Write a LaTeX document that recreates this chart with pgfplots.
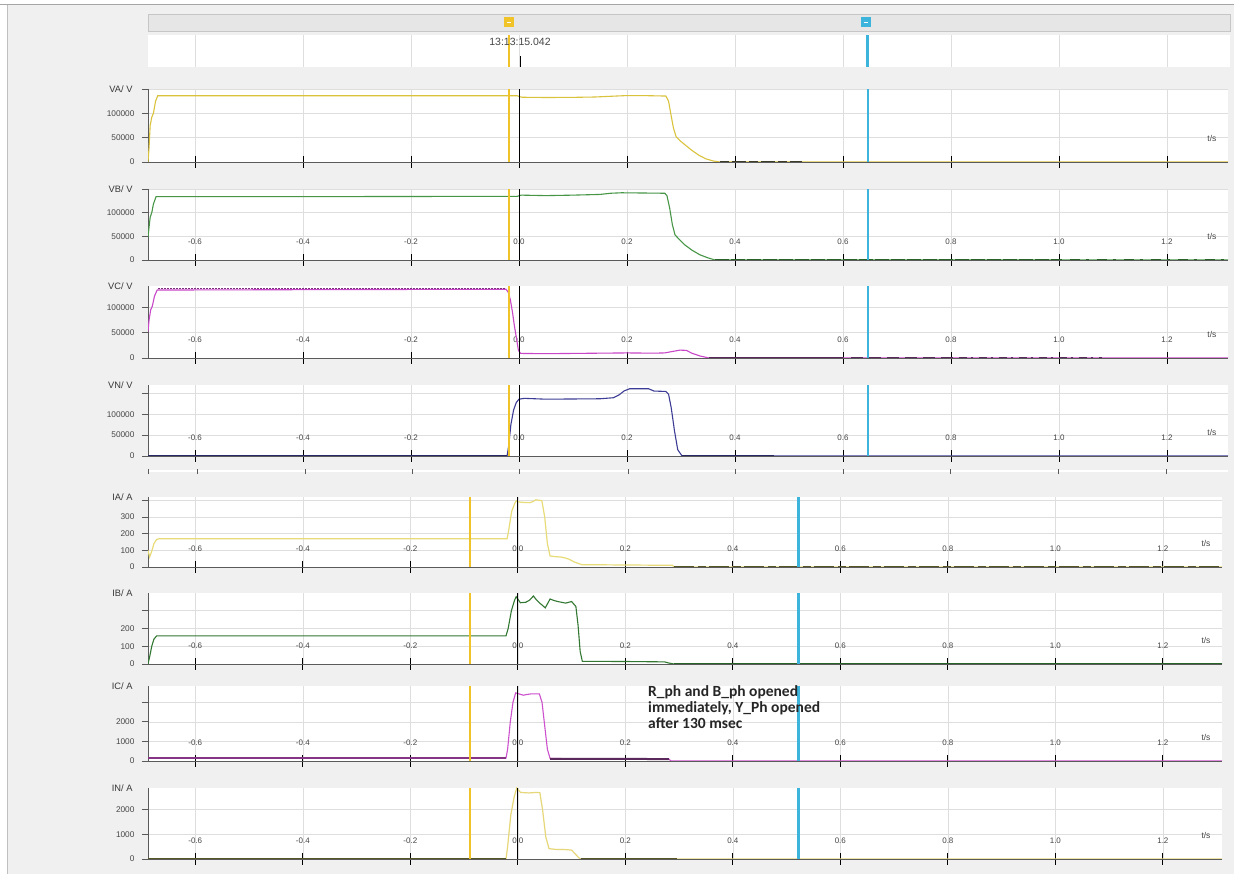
\documentclass[border=0pt]{standalone}
\usepackage{pgfplots}
\pgfplotsset{compat=1.18}
\usepackage{fontspec}
\setmainfont{Liberation Sans}
\newfontfamily\calibri{Carlito}
\definecolor{bg}{RGB}{240,240,240}
\definecolor{gridc}{RGB}{222,222,222}
\definecolor{axc}{RGB}{90,90,90}
\definecolor{labc}{RGB}{70,70,70}
\definecolor{cursY}{RGB}{240,196,40}
\definecolor{cursB}{RGB}{60,180,220}
\definecolor{vacol}{RGB}{218,195,60}
\definecolor{vbcol}{RGB}{70,150,70}
\definecolor{vccol}{RGB}{200,70,200}
\definecolor{vncol}{RGB}{60,60,150}
\definecolor{iacol}{RGB}{232,220,120}
\definecolor{ibcol}{RGB}{50,120,50}
\definecolor{iccol}{RGB}{205,80,205}
\definecolor{incol}{RGB}{230,215,120}
\definecolor{darkA}{RGB}{60,60,40}
\definecolor{darkB}{RGB}{40,100,40}
\definecolor{darkC}{RGB}{90,40,90}
\definecolor{darkN}{RGB}{40,40,100}
\definecolor{olive}{RGB}{85,85,40}
\definecolor{rulerc}{RGB}{230,230,230}
\pgfplotsset{
 panel/.style={
  scale only axis, ymin=0,
  axis x line*=bottom, axis y line*=left,
  axis line style={draw=axc, line width=0.9pt},
  axis background/.style={fill=white},
  xtick={-0.6,-0.4,-0.2,0,0.2,0.4,0.6,0.8,1.0,1.2},
  xticklabels={-0.6,-0.4,-0.2,0.0,0.2,0.4,0.6,0.8,1.0,1.2},
  xticklabel style={anchor=south, yshift=15pt, font=\fontsize{8}{8}\selectfont, text=labc},
  yticklabel style={font=\fontsize{8.3}{8}\selectfont, text=labc, xshift=-4pt},
  xtick align=center, ytick align=outside,
  major tick length=6pt,
  xtick style={draw=black, line width=0.9pt, /pgfplots/major tick length=12pt},
  ytick style={draw=axc, line width=0.8pt},
  grid=major, grid style={draw=gridc, line width=0.5pt},
  scaled y ticks=false, scaled x ticks=false,
  clip mode=individual,
 },
 vpanel/.style={panel, width=1080pt, xmin=-0.687, xmax=1.313},
 ipanel/.style={panel, width=1074pt, xmin=-0.688, xmax=1.31},
}
\newcommand{\tsl}{\node[anchor=south east, font=\fontsize{8.5}{9}\selectfont, text=labc, xshift=-8pt, yshift=17pt] at (rel axis cs:1,0) {t/s};}
\newcommand{\ylab}[1]{\node[anchor=east, font=\fontsize{9.3}{10}\selectfont, text=labc!80!black, xshift=-12pt] at (rel axis cs:0,1) {#1};}
\newcommand{\vcurs}[1]{%
 \addplot[black, line width=0.8pt] coordinates {(0,0) (0,#1)};
 \addplot[cursY, line width=2.5pt] coordinates {(-0.0185,0) (-0.0185,#1)};
 \addplot[cursB, line width=2.5pt] coordinates {(0.646,0) (0.646,#1)};}
\newcommand{\icurs}[1]{%
 \addplot[black, line width=0.8pt] coordinates {(0,0) (0,#1)};
 \addplot[cursY, line width=2.5pt] coordinates {(-0.089,0) (-0.089,#1)};
 \addplot[cursB, line width=2.5pt] coordinates {(0.522,0) (0.522,#1)};}
\begin{document}
\begin{tikzpicture}[x=1pt,y=1pt]
\fill[white] (0,0) rectangle (1234,874);
\useasboundingbox (0,0) rectangle (1234,874);
\fill[bg] (7,0) rectangle (1234,869);
\draw[gray!70, line width=1pt] (0,869) -- (1234,869);
\draw[gray!50, line width=0.8pt] (7,0) -- (7,869);
% ruler strip
\draw[fill=rulerc, draw=gray!45] (148,843) rectangle (1230,860);
\fill[cursY] (504,847) rectangle (514,857);
\draw[white, line width=0.6pt] (507,852) -- (511,852);
\fill[cursB] (861,847) rectangle (871,857);
\draw[white, line width=0.6pt] (864,852) -- (868,852);
% header timeline
\begin{axis}[scale only axis, at={(148pt,807pt)}, anchor=south west, width=1082pt, height=32pt,
  xmin=-0.687, xmax=1.317, ymin=0, ymax=1,
  axis background/.style={fill=white}, axis line style={draw=none},
  xtick={-0.6,-0.4,-0.2,0,0.2,0.4,0.6,0.8,1.0,1.2}, xticklabels={}, ytick=\empty,
  xtick style={draw=none}, xmajorgrids, grid style={draw=gridc, line width=0.5pt}]
 \addplot[cursY, line width=2.5pt] coordinates {(-0.0185,0) (-0.0185,1)};
 \addplot[cursB, line width=2.5pt] coordinates {(0.646,0) (0.646,1)};
 \addplot[black, line width=0.8pt] coordinates {(0.002,0) (0.002,0.35)};
\end{axis}
\node[font=\fontsize{10.5}{12}\selectfont, text=labc] at (520,832) {13:13:15.042};
% VA
\begin{axis}[vpanel, at={(148pt,712pt)}, anchor=south west, height=73pt, ymax=150000,
  ytick={0,50000,100000,150000}, yticklabels={0,50000,100000,}, xticklabels={}]
 \addplot[vacol, line width=1.1pt] coordinates {(-0.687,0) (-0.685,30000) (-0.683,75000) (-0.680,92000) (-0.677,100000) (-0.673,125000) (-0.669,136000) (-0.3,136000) (-0.003,136000) (0.002,134000) (0.006,133000) (0.05,132500) (0.1,132800) (0.14,133500) (0.17,135000) (0.2,136500) (0.24,136200) (0.272,135500) (0.277,125000) (0.281,100000) (0.286,70000) (0.291,52000) (0.3,42000) (0.31,33000) (0.32,24000) (0.333,14000) (0.346,6500) (0.36,2000) (0.372,0) (1.313,0)};
 \addplot[darkA, line width=2pt, dash pattern=on 9pt off 3pt on 14pt off 3pt] coordinates {(0.372,0) (0.525,0)};
 \vcurs{150000}
 \ylab{VA/ V}\tsl
\end{axis}
% VB
\begin{axis}[vpanel, at={(148pt,614pt)}, anchor=south west, height=71pt, ymax=150000,
  ytick={0,50000,100000,150000}, yticklabels={0,50000,100000,}]
 \addplot[vbcol, line width=1.1pt] coordinates {(-0.687,48000) (-0.685,70000) (-0.683,90000) (-0.680,100000) (-0.677,118000) (-0.672,134000) (-0.3,134000) (-0.003,134500) (0.004,137000) (0.05,136000) (0.1,137000) (0.15,138500) (0.17,141000) (0.19,142000) (0.23,141500) (0.27,141000) (0.274,136000) (0.279,110000) (0.284,75000) (0.289,53000) (0.298,42000) (0.307,32000) (0.32,21000) (0.335,11000) (0.35,4500) (0.363,0) (1.313,0)};
 \addplot[darkB, line width=2pt, dash pattern=on 14pt off 2pt] coordinates {(0.363,0) (1.0,0)};
 \addplot[darkB, line width=2pt, dash pattern=on 3pt off 8pt on 10pt off 6pt] coordinates {(1.0,0) (1.313,0)};
 \vcurs{150000}
 \ylab{VB/ V}\tsl
\end{axis}
% VC
\begin{axis}[vpanel, at={(148pt,516pt)}, anchor=south west, height=72pt, ymax=142000,
  ytick={0,50000,100000}, yticklabels={0,50000,100000}]
 \addplot[vccol, line width=1.1pt] coordinates {(-0.687,52000) (-0.685,75000) (-0.682,95000) (-0.679,102000) (-0.675,122000) (-0.67,134000) (-0.3,135000) (-0.024,135500) (-0.02,130000) (-0.016,115000) (-0.012,90000) (-0.008,60000) (-0.004,35000) (-0.001,15000) (0.003,9000) (0.05,8500) (0.1,9000) (0.15,9500) (0.2,10000) (0.25,9500) (0.27,10000) (0.285,13000) (0.298,15500) (0.31,15000) (0.32,9500) (0.335,4000) (0.352,0) (1.313,0)};
 \addplot[darkC!70!vccol, line width=0.8pt, dash pattern=on 1.5pt off 1.5pt] coordinates {(-0.668,136500) (-0.026,136500)};
 \addplot[darkC, line width=2pt] coordinates {(0.352,0) (0.6,0)};
 \addplot[darkC, line width=2pt, dash pattern=on 12pt off 6pt] coordinates {(0.615,0) (0.8,0)};
 \addplot[darkC, line width=1.6pt, dash pattern=on 2pt off 6pt on 8pt off 4pt] coordinates {(0.8,0) (1.08,0)};
 \vcurs{142000}
 \ylab{VC/ V}\tsl
\end{axis}
% VN
\begin{axis}[vpanel, at={(148pt,418pt)}, anchor=south west, height=71pt, ymax=170000,
  ytick={0,50000,100000,150000}, yticklabels={0,50000,100000,}]
 \addplot[vncol, line width=1.1pt] coordinates {(-0.687,0) (-0.022,0) (-0.019,25000) (-0.015,75000) (-0.01,110000) (-0.005,128000) (0.0,136000) (0.01,138000) (0.05,136000) (0.1,136500) (0.15,137000) (0.175,139500) (0.185,146000) (0.195,156000) (0.205,161000) (0.24,161000) (0.25,155500) (0.272,154500) (0.277,148000) (0.282,115000) (0.288,60000) (0.294,15000) (0.302,0) (1.313,0)};
 \addplot[darkN, line width=2pt] coordinates {(-0.687,0) (-0.022,0)};
 \addplot[darkN, line width=2pt] coordinates {(0.302,0) (0.472,0)};
 \vcurs{170000}
 \ylab{VN/ V}\tsl
\end{axis}
% separator ticks
\draw[white, line width=1.5pt] (148,403) -- (1228,403);
\foreach \xx in {148,197,305,412,519,628,735,843,950,1058,1166}
  \draw[axc, line width=0.7pt] (\xx,400) -- (\xx,405);
% IA
\begin{axis}[ipanel, at={(148pt,307pt)}, anchor=south west, height=70pt, ymax=420,
  ytick={0,100,200,300,400}, yticklabels={0,100,200,300,}]
 \addplot[iacol, line width=1.2pt] coordinates {(-0.688,100) (-0.685,60) (-0.681,95) (-0.677,140) (-0.672,165) (-0.668,169) (-0.3,169) (-0.02,169) (-0.0175,210) (-0.0115,333) (-0.006,380) (-0.003,397) (0.002,390) (0.012,387) (0.022,386) (0.028,392) (0.0335,403) (0.0447,398) (0.05,300) (0.055,140) (0.06,66) (0.07,62) (0.08,60) (0.087,55) (0.095,47) (0.105,30) (0.119,14) (0.2,12) (0.288,10) (0.29,0) (1.31,0)};
 \addplot[olive, line width=1.8pt, dash pattern=on 20pt off 4pt on 8pt off 3pt] coordinates {(0.29,0) (1.31,0)};
 \icurs{420}
 \ylab{IA/ A}\tsl
\end{axis}
% IB
\begin{axis}[ipanel, at={(148pt,210pt)}, anchor=south west, height=71pt, ymax=400,
  ytick={0,100,200,300}, yticklabels={0,100,200,}]
 \addplot[ibcol, line width=1.1pt] coordinates {(-0.688,0) (-0.685,40) (-0.681,100) (-0.677,140) (-0.672,158) (-0.3,158) (-0.022,158) (-0.018,200) (-0.012,300) (-0.006,360) (-0.003,379) (0.0047,345) (0.015,348) (0.022,360) (0.029,383) (0.035,360) (0.041,342) (0.046,330) (0.051,316) (0.06,366) (0.067,358) (0.074,352) (0.089,343) (0.1,352) (0.108,324) (0.112,220) (0.116,70) (0.12,15) (0.2,14) (0.273,12) (0.28,6) (0.29,0) (1.31,0)};
 \addplot[darkB, line width=2pt] coordinates {(0.29,0) (1.31,0)};
 \icurs{400}
 \ylab{IB/ A}\tsl
\end{axis}
% IC
\begin{axis}[ipanel, at={(148pt,113pt)}, anchor=south west, height=75pt, ymax=3830,
  ytick={0,1000,2000,3000}, yticklabels={0,1000,2000,}]
 \addplot[iccol, line width=1.1pt] coordinates {(-0.688,150) (-0.022,150) (-0.019,600) (-0.014,2000) (-0.009,3000) (-0.004,3480) (0.003,3420) (0.01,3360) (0.018,3400) (0.025,3430) (0.04,3430) (0.045,3000) (0.05,1800) (0.055,600) (0.06,130) (0.1,120) (0.2,110) (0.281,100) (0.285,0) (1.31,0)};
 \addplot[iccol!65!black, line width=2pt] coordinates {(-0.688,130) (-0.022,130)};
 \addplot[darkC, line width=2pt] coordinates {(0.06,110) (0.281,100)};
 \icurs{3830}
 \ylab{IC/ A}\tsl
\end{axis}
% IN
\begin{axis}[ipanel, at={(148pt,15pt)}, anchor=south west, height=71pt, ymax=2880,
  ytick={0,1000,2000}, yticklabels={0,1000,2000}]
 \addplot[incol, line width=1.2pt] coordinates {(-0.688,0) (-0.022,0) (-0.019,500) (-0.013,1800) (-0.007,2500) (-0.002,2880) (0.005,2700) (0.02,2680) (0.035,2700) (0.041,2690) (0.046,2000) (0.052,900) (0.058,420) (0.07,390) (0.09,380) (0.1,360) (0.107,200) (0.113,60) (0.117,0) (1.31,0)};
 \addplot[olive, line width=2pt] coordinates {(-0.688,0) (-0.022,0)};
 \addplot[olive, line width=2pt] coordinates {(0.117,0) (0.296,0)};
 \icurs{2880}
 \ylab{IN/ A}\tsl
\end{axis}
\node[anchor=north west, align=left, inner sep=0pt, font=\calibri\bfseries\fontsize{15.5}{16}\selectfont, text=black!85] at (648,189) {R\_ph and B\_ph opened\\immediately, Y\_Ph opened\\after 130 msec};
\end{tikzpicture}
\end{document}
